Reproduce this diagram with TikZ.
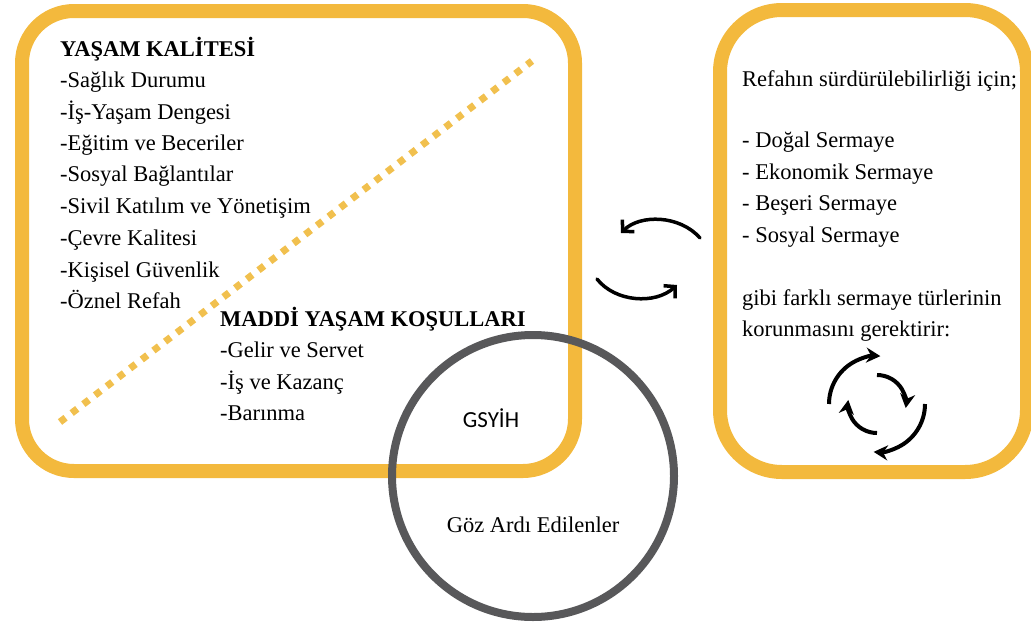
\documentclass[tikz,border=0pt]{standalone}
\usepackage{fontspec}
\setmainfont{Liberation Serif}[Ligatures=TeX]
\newfontfamily\gsfont{Carlito}
\usetikzlibrary{arrows.meta}
\definecolor{orng}{RGB}{243,185,61}
\definecolor{dotc}{RGB}{241,192,78}
\definecolor{ringc}{RGB}{88,88,90}
\begin{document}
\begin{tikzpicture}[x=1pt,y=-1pt,
  every node/.style={font=\rmfamily\fontsize{22.5}{27}\selectfont},
  itemtxt/.style={anchor=west,inner sep=0pt,text height=15pt,text depth=0pt},
  hdrtxt/.style={anchor=west,inner sep=0pt,text height=15pt,text depth=0pt,font=\rmfamily\bfseries\fontsize{22.5}{27}\selectfont},
  frame/.style={draw=orng,line width=14pt,rounded corners=52pt},
  sketch/.style={line width=3.5pt,line cap=round,-{Straight Barb[length=8pt,width=17pt,line width=3.5pt]}},
  cycarrow/.style={line width=4pt,-{Stealth[length=14pt,width=15pt]}}]
\useasboundingbox (0,0) rectangle (1031,624);
% frames
\draw[frame] (22,11) rectangle (575,471);
\draw[frame,rounded corners=62pt] (720,10) rectangle (1027,472);
% dotted divider
\draw[dotc,line width=7pt,dash pattern=on 7pt off 7.7pt] (60,422) -- (532,61);
% left texts
\node[hdrtxt] (yk) at (60,48.5) {YAŞAM KALİTESİ};
\node[itemtxt] (l1) at (60,79.5) {-Sağlık Durumu};
\node[itemtxt] (l2) at (60,111.5) {-İş-Yaşam Dengesi};
\node[itemtxt] (l3) at (60,142.5) {-Eğitim ve Beceriler};
\node[itemtxt] (l4) at (60,173.5) {-Sosyal Bağlantılar};
\node[itemtxt] (l5) at (60,205.5) {-Sivil Katılım ve Yönetişim};
\node[itemtxt] (l6) at (60,237.5) {-Çevre Kalitesi};
\node[itemtxt] (l7) at (60,269.5) {-Kişisel Güvenlik};
\node[itemtxt] (l8) at (60,300.5) {-Öznel Refah};
\node[hdrtxt] (myk) at (220,318.5) {MADDİ YAŞAM KOŞULLARI};
\node[itemtxt] (m1) at (220,349.5) {-Gelir ve Servet};
\node[itemtxt] (m2) at (220,381.5) {-İş ve Kazanç};
\node[itemtxt] (m3) at (220,412.5) {-Barınma};
% circle
\node[circle,draw=ringc,line width=8pt,minimum size=282pt,inner sep=0pt] (ring) at (533,476) {};
\node[inner sep=0pt,font=\gsfont\fontsize{23}{27}\selectfont] (gsyih) at (491,418) {GSYİH};
\node[inner sep=0pt] (goz) at (533,525) {Göz Ardı Edilenler};
% right texts
\node[itemtxt] (r0) at (742,78.5) {Refahın sürdürülebilirliği için;};
\node[itemtxt] (r1) at (742,139.5) {- Doğal Sermaye};
\node[itemtxt] (r2) at (742,171.5) {- Ekonomik Sermaye};
\node[itemtxt] (r3) at (742,202.5) {- Beşeri Sermaye};
\node[itemtxt] (r4) at (742,234.5) {- Sosyal Sermaye};
\node[itemtxt] (r5) at (742,297.5) {gibi farklı sermaye türlerinin};
\node[itemtxt] (r6) at (742,328.5) {korunmasını gerektirir:};
% middle arrows
\coordinate (a1s) at (700,238);
\coordinate (a1e) at (621,233);
\coordinate (a2s) at (597,279);
\coordinate (a2e) at (677,285);
\draw[sketch] (a1s) .. controls (680,215) and (640,214) .. (a1e);
\draw[sketch] (a2s) .. controls (615,302) and (655,305) .. (a2e);
% cycle icon
\coordinate (cyc) at (877,404);
\draw[cycarrow] ([shift={(180:48)}]cyc) arc[start angle=180,end angle=274,radius=48];
\draw[cycarrow] ([shift={(0:48)}]cyc) arc[start angle=0,end angle=94,radius=48];
\draw[cycarrow] ([shift={(-90:29)}]cyc) arc[start angle=-90,end angle=8,radius=29];
\draw[cycarrow] ([shift={(90:29)}]cyc) arc[start angle=90,end angle=188,radius=29];
\end{tikzpicture}
\end{document}
